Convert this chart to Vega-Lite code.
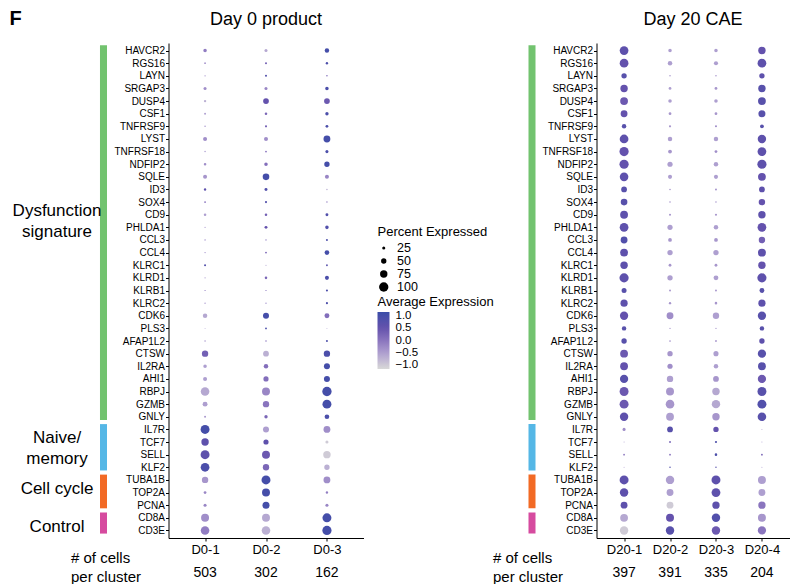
{
  "$schema": "https://vega.github.io/schema/vega-lite/v6.json",
  "padding": {"left": 9.5, "top": 9, "right": 0, "bottom": 0},
  "config": {
    "view": {"stroke": null},
    "font": "Liberation Sans",
    "axis": {"domainColor": "black", "tickColor": "black", "labelColor": "black", "grid": false, "tickSize": 3, "domainWidth": 1, "tickWidth": 1, "labelFont": "Liberation Sans"},
    "title": {"fontSize": 18, "fontWeight": "normal", "color": "black", "offset": 14, "anchor": "middle", "frame": "group"},
    "legend": {"titleFontWeight": "normal", "titleFontSize": 13, "labelFontSize": 13, "titleColor": "black", "labelColor": "black"}
  },
  "datasets": {
    "cats": [
      {"group": "Dysfunction", "label": "Dysfunction\nsignature", "first": "HAVCR2", "last": "GNLY", "anchor": "CD9"},
      {"group": "Naive", "label": "Naive/\nmemory", "first": "IL7R", "last": "KLF2", "anchor": "TCF7"},
      {"group": "Cell cycle", "label": "Cell cycle", "first": "TUBA1B", "last": "PCNA", "anchor": "TOP2A"},
      {"group": "Control", "label": "Control", "first": "CD8A", "last": "CD3E", "anchor": "CD3E"}
    ],
    "counts0": [
      {"cluster": "D0-1", "n": 503, "row": "# of cells|per cluster"},
      {"cluster": "D0-2", "n": 302, "row": "# of cells|per cluster"},
      {"cluster": "D0-3", "n": 162, "row": "# of cells|per cluster"}
    ],
    "counts20": [
      {"cluster": "D20-1", "n": 397, "row": "# of cells|per cluster"},
      {"cluster": "D20-2", "n": 391, "row": "# of cells|per cluster"},
      {"cluster": "D20-3", "n": 335, "row": "# of cells|per cluster"},
      {"cluster": "D20-4", "n": 204, "row": "# of cells|per cluster"}
    ],
    "d0": [
      {"gene":"HAVCR2","cluster":"D0-1","pct":30,"avg":-0.1},{"gene":"HAVCR2","cluster":"D0-2","pct":25,"avg":-0.6},{"gene":"HAVCR2","cluster":"D0-3","pct":40,"avg":1.0},
      {"gene":"RGS16","cluster":"D0-1","pct":12,"avg":-0.3},{"gene":"RGS16","cluster":"D0-2","pct":15,"avg":0.3},{"gene":"RGS16","cluster":"D0-3","pct":18,"avg":0.9},
      {"gene":"LAYN","cluster":"D0-1","pct":8,"avg":-0.2},{"gene":"LAYN","cluster":"D0-2","pct":15,"avg":0.8},{"gene":"LAYN","cluster":"D0-3","pct":10,"avg":0.2},
      {"gene":"SRGAP3","cluster":"D0-1","pct":25,"avg":-0.3},{"gene":"SRGAP3","cluster":"D0-2","pct":25,"avg":-0.2},{"gene":"SRGAP3","cluster":"D0-3","pct":30,"avg":0.9},
      {"gene":"DUSP4","cluster":"D0-1","pct":18,"avg":-0.7},{"gene":"DUSP4","cluster":"D0-2","pct":55,"avg":0.5},{"gene":"DUSP4","cluster":"D0-3","pct":55,"avg":0.4},
      {"gene":"CSF1","cluster":"D0-1","pct":14,"avg":-0.5},{"gene":"CSF1","cluster":"D0-2","pct":20,"avg":0.2},{"gene":"CSF1","cluster":"D0-3","pct":28,"avg":0.9},
      {"gene":"TNFRSF9","cluster":"D0-1","pct":10,"avg":-0.4},{"gene":"TNFRSF9","cluster":"D0-2","pct":16,"avg":0.3},{"gene":"TNFRSF9","cluster":"D0-3","pct":22,"avg":0.9},
      {"gene":"LYST","cluster":"D0-1","pct":35,"avg":-0.3},{"gene":"LYST","cluster":"D0-2","pct":35,"avg":-0.3},{"gene":"LYST","cluster":"D0-3","pct":68,"avg":1.0},
      {"gene":"TNFRSF18","cluster":"D0-1","pct":10,"avg":-0.5},{"gene":"TNFRSF18","cluster":"D0-2","pct":13,"avg":0.0},{"gene":"TNFRSF18","cluster":"D0-3","pct":25,"avg":0.9},
      {"gene":"NDFIP2","cluster":"D0-1","pct":20,"avg":-0.3},{"gene":"NDFIP2","cluster":"D0-2","pct":30,"avg":0.1},{"gene":"NDFIP2","cluster":"D0-3","pct":50,"avg":1.0},
      {"gene":"SQLE","cluster":"D0-1","pct":35,"avg":-0.4},{"gene":"SQLE","cluster":"D0-2","pct":65,"avg":1.0},{"gene":"SQLE","cluster":"D0-3","pct":35,"avg":-0.2},
      {"gene":"ID3","cluster":"D0-1","pct":18,"avg":0.6},{"gene":"ID3","cluster":"D0-2","pct":24,"avg":0.8},{"gene":"ID3","cluster":"D0-3","pct":10,"avg":-0.7},
      {"gene":"SOX4","cluster":"D0-1","pct":14,"avg":-0.1},{"gene":"SOX4","cluster":"D0-2","pct":16,"avg":0.8},{"gene":"SOX4","cluster":"D0-3","pct":10,"avg":-0.2},
      {"gene":"CD9","cluster":"D0-1","pct":20,"avg":-0.5},{"gene":"CD9","cluster":"D0-2","pct":20,"avg":0.3},{"gene":"CD9","cluster":"D0-3","pct":23,"avg":0.8},
      {"gene":"PHLDA1","cluster":"D0-1","pct":8,"avg":-0.4},{"gene":"PHLDA1","cluster":"D0-2","pct":23,"avg":0.5},{"gene":"PHLDA1","cluster":"D0-3","pct":30,"avg":0.8},
      {"gene":"CCL3","cluster":"D0-1","pct":8,"avg":0.0},{"gene":"CCL3","cluster":"D0-2","pct":8,"avg":0.2},{"gene":"CCL3","cluster":"D0-3","pct":15,"avg":0.9},
      {"gene":"CCL4","cluster":"D0-1","pct":8,"avg":-0.2},{"gene":"CCL4","cluster":"D0-2","pct":13,"avg":0.2},{"gene":"CCL4","cluster":"D0-3","pct":42,"avg":1.0},
      {"gene":"KLRC1","cluster":"D0-1","pct":15,"avg":0.8},{"gene":"KLRC1","cluster":"D0-2","pct":8,"avg":-0.6},{"gene":"KLRC1","cluster":"D0-3","pct":13,"avg":0.7},
      {"gene":"KLRD1","cluster":"D0-1","pct":8,"avg":-0.4},{"gene":"KLRD1","cluster":"D0-2","pct":20,"avg":0.2},{"gene":"KLRD1","cluster":"D0-3","pct":35,"avg":0.9},
      {"gene":"KLRB1","cluster":"D0-1","pct":8,"avg":0.0},{"gene":"KLRB1","cluster":"D0-2","pct":8,"avg":0.1},{"gene":"KLRB1","cluster":"D0-3","pct":16,"avg":0.9},
      {"gene":"KLRC2","cluster":"D0-1","pct":8,"avg":-0.2},{"gene":"KLRC2","cluster":"D0-2","pct":8,"avg":-0.1},{"gene":"KLRC2","cluster":"D0-3","pct":16,"avg":0.9},
      {"gene":"CDK6","cluster":"D0-1","pct":40,"avg":-0.6},{"gene":"CDK6","cluster":"D0-2","pct":58,"avg":1.0},{"gene":"CDK6","cluster":"D0-3","pct":45,"avg":0.1},
      {"gene":"PLS3","cluster":"D0-1","pct":6,"avg":-0.3},{"gene":"PLS3","cluster":"D0-2","pct":13,"avg":0.9},{"gene":"PLS3","cluster":"D0-3","pct":6,"avg":-0.4},
      {"gene":"AFAP1L2","cluster":"D0-1","pct":10,"avg":-0.4},{"gene":"AFAP1L2","cluster":"D0-2","pct":10,"avg":0.0},{"gene":"AFAP1L2","cluster":"D0-3","pct":15,"avg":0.9},
      {"gene":"CTSW","cluster":"D0-1","pct":62,"avg":0.3},{"gene":"CTSW","cluster":"D0-2","pct":55,"avg":-0.7},{"gene":"CTSW","cluster":"D0-3","pct":62,"avg":0.9},
      {"gene":"IL2RA","cluster":"D0-1","pct":30,"avg":-0.5},{"gene":"IL2RA","cluster":"D0-2","pct":40,"avg":0.1},{"gene":"IL2RA","cluster":"D0-3","pct":58,"avg":1.0},
      {"gene":"AHI1","cluster":"D0-1","pct":35,"avg":-0.5},{"gene":"AHI1","cluster":"D0-2","pct":48,"avg":0.1},{"gene":"AHI1","cluster":"D0-3","pct":58,"avg":1.0},
      {"gene":"RBPJ","cluster":"D0-1","pct":90,"avg":-0.6},{"gene":"RBPJ","cluster":"D0-2","pct":82,"avg":-0.2},{"gene":"RBPJ","cluster":"D0-3","pct":100,"avg":1.0},
      {"gene":"GZMB","cluster":"D0-1","pct":45,"avg":-0.5},{"gene":"GZMB","cluster":"D0-2","pct":62,"avg":0.0},{"gene":"GZMB","cluster":"D0-3","pct":95,"avg":1.0},
      {"gene":"GNLY","cluster":"D0-1","pct":14,"avg":-0.4},{"gene":"GNLY","cluster":"D0-2","pct":28,"avg":0.2},{"gene":"GNLY","cluster":"D0-3","pct":42,"avg":0.9},
      {"gene":"IL7R","cluster":"D0-1","pct":95,"avg":1.0},{"gene":"IL7R","cluster":"D0-2","pct":58,"avg":-0.5},{"gene":"IL7R","cluster":"D0-3","pct":68,"avg":-0.3},
      {"gene":"TCF7","cluster":"D0-1","pct":75,"avg":0.6},{"gene":"TCF7","cluster":"D0-2","pct":48,"avg":0.6},{"gene":"TCF7","cluster":"D0-3","pct":25,"avg":-1.0},
      {"gene":"SELL","cluster":"D0-1","pct":95,"avg":0.6},{"gene":"SELL","cluster":"D0-2","pct":82,"avg":0.4},{"gene":"SELL","cluster":"D0-3","pct":75,"avg":-1.0},
      {"gene":"KLF2","cluster":"D0-1","pct":92,"avg":0.9},{"gene":"KLF2","cluster":"D0-2","pct":62,"avg":0.2},{"gene":"KLF2","cluster":"D0-3","pct":50,"avg":-0.7},
      {"gene":"TUBA1B","cluster":"D0-1","pct":62,"avg":-0.4},{"gene":"TUBA1B","cluster":"D0-2","pct":95,"avg":1.0},{"gene":"TUBA1B","cluster":"D0-3","pct":68,"avg":-0.3},
      {"gene":"TOP2A","cluster":"D0-1","pct":22,"avg":-0.2},{"gene":"TOP2A","cluster":"D0-2","pct":82,"avg":1.0},{"gene":"TOP2A","cluster":"D0-3","pct":18,"avg":-0.1},
      {"gene":"PCNA","cluster":"D0-1","pct":25,"avg":-0.2},{"gene":"PCNA","cluster":"D0-2","pct":70,"avg":1.0},{"gene":"PCNA","cluster":"D0-3","pct":25,"avg":-0.2},
      {"gene":"CD8A","cluster":"D0-1","pct":82,"avg":-0.3},{"gene":"CD8A","cluster":"D0-2","pct":82,"avg":-0.6},{"gene":"CD8A","cluster":"D0-3","pct":95,"avg":1.0},
      {"gene":"CD3E","cluster":"D0-1","pct":90,"avg":-0.1},{"gene":"CD3E","cluster":"D0-2","pct":90,"avg":-0.7},{"gene":"CD3E","cluster":"D0-3","pct":98,"avg":1.0}
    ],
    "d20": [
      {"gene":"HAVCR2","cluster":"D20-1","pct":92,"avg":0.6},{"gene":"HAVCR2","cluster":"D20-2","pct":30,"avg":-0.5},{"gene":"HAVCR2","cluster":"D20-3","pct":30,"avg":-0.5},{"gene":"HAVCR2","cluster":"D20-4","pct":75,"avg":0.5},
      {"gene":"RGS16","cluster":"D20-1","pct":92,"avg":0.5},{"gene":"RGS16","cluster":"D20-2","pct":40,"avg":-0.5},{"gene":"RGS16","cluster":"D20-3","pct":36,"avg":-0.5},{"gene":"RGS16","cluster":"D20-4","pct":92,"avg":0.6},
      {"gene":"LAYN","cluster":"D20-1","pct":50,"avg":0.7},{"gene":"LAYN","cluster":"D20-2","pct":10,"avg":-0.4},{"gene":"LAYN","cluster":"D20-3","pct":10,"avg":-0.3},{"gene":"LAYN","cluster":"D20-4","pct":50,"avg":0.6},
      {"gene":"SRGAP3","cluster":"D20-1","pct":75,"avg":0.5},{"gene":"SRGAP3","cluster":"D20-2","pct":22,"avg":-0.5},{"gene":"SRGAP3","cluster":"D20-3","pct":22,"avg":-0.4},{"gene":"SRGAP3","cluster":"D20-4","pct":75,"avg":0.7},
      {"gene":"DUSP4","cluster":"D20-1","pct":80,"avg":0.4},{"gene":"DUSP4","cluster":"D20-2","pct":30,"avg":-0.5},{"gene":"DUSP4","cluster":"D20-3","pct":30,"avg":-0.5},{"gene":"DUSP4","cluster":"D20-4","pct":80,"avg":0.7},
      {"gene":"CSF1","cluster":"D20-1","pct":68,"avg":0.5},{"gene":"CSF1","cluster":"D20-2","pct":22,"avg":-0.4},{"gene":"CSF1","cluster":"D20-3","pct":22,"avg":-0.4},{"gene":"CSF1","cluster":"D20-4","pct":70,"avg":0.7},
      {"gene":"TNFRSF9","cluster":"D20-1","pct":40,"avg":0.7},{"gene":"TNFRSF9","cluster":"D20-2","pct":16,"avg":-0.4},{"gene":"TNFRSF9","cluster":"D20-3","pct":15,"avg":-0.3},{"gene":"TNFRSF9","cluster":"D20-4","pct":33,"avg":0.7},
      {"gene":"LYST","cluster":"D20-1","pct":92,"avg":0.6},{"gene":"LYST","cluster":"D20-2","pct":40,"avg":-0.5},{"gene":"LYST","cluster":"D20-3","pct":40,"avg":-0.5},{"gene":"LYST","cluster":"D20-4","pct":88,"avg":0.6},
      {"gene":"TNFRSF18","cluster":"D20-1","pct":98,"avg":0.5},{"gene":"TNFRSF18","cluster":"D20-2","pct":33,"avg":-0.4},{"gene":"TNFRSF18","cluster":"D20-3","pct":22,"avg":-0.3},{"gene":"TNFRSF18","cluster":"D20-4","pct":92,"avg":0.6},
      {"gene":"NDFIP2","cluster":"D20-1","pct":98,"avg":0.5},{"gene":"NDFIP2","cluster":"D20-2","pct":48,"avg":-0.5},{"gene":"NDFIP2","cluster":"D20-3","pct":40,"avg":-0.5},{"gene":"NDFIP2","cluster":"D20-4","pct":98,"avg":0.6},
      {"gene":"SQLE","cluster":"D20-1","pct":90,"avg":0.6},{"gene":"SQLE","cluster":"D20-2","pct":36,"avg":-0.5},{"gene":"SQLE","cluster":"D20-3","pct":36,"avg":-0.5},{"gene":"SQLE","cluster":"D20-4","pct":80,"avg":0.5},
      {"gene":"ID3","cluster":"D20-1","pct":55,"avg":0.7},{"gene":"ID3","cluster":"D20-2","pct":10,"avg":-0.3},{"gene":"ID3","cluster":"D20-3","pct":13,"avg":-0.3},{"gene":"ID3","cluster":"D20-4","pct":55,"avg":0.6},
      {"gene":"SOX4","cluster":"D20-1","pct":65,"avg":0.7},{"gene":"SOX4","cluster":"D20-2","pct":10,"avg":-0.3},{"gene":"SOX4","cluster":"D20-3","pct":10,"avg":-0.3},{"gene":"SOX4","cluster":"D20-4","pct":63,"avg":0.5},
      {"gene":"CD9","cluster":"D20-1","pct":80,"avg":0.6},{"gene":"CD9","cluster":"D20-2","pct":15,"avg":-0.4},{"gene":"CD9","cluster":"D20-3","pct":16,"avg":-0.4},{"gene":"CD9","cluster":"D20-4","pct":75,"avg":0.6},
      {"gene":"PHLDA1","cluster":"D20-1","pct":92,"avg":0.6},{"gene":"PHLDA1","cluster":"D20-2","pct":48,"avg":-0.5},{"gene":"PHLDA1","cluster":"D20-3","pct":40,"avg":-0.5},{"gene":"PHLDA1","cluster":"D20-4","pct":92,"avg":0.5},
      {"gene":"CCL3","cluster":"D20-1","pct":68,"avg":0.8},{"gene":"CCL3","cluster":"D20-2","pct":32,"avg":-0.4},{"gene":"CCL3","cluster":"D20-3","pct":32,"avg":-0.4},{"gene":"CCL3","cluster":"D20-4","pct":62,"avg":0.3},
      {"gene":"CCL4","cluster":"D20-1","pct":80,"avg":0.6},{"gene":"CCL4","cluster":"D20-2","pct":50,"avg":-0.5},{"gene":"CCL4","cluster":"D20-3","pct":50,"avg":-0.5},{"gene":"CCL4","cluster":"D20-4","pct":82,"avg":0.6},
      {"gene":"KLRC1","cluster":"D20-1","pct":75,"avg":0.6},{"gene":"KLRC1","cluster":"D20-2","pct":22,"avg":-0.4},{"gene":"KLRC1","cluster":"D20-3","pct":22,"avg":-0.4},{"gene":"KLRC1","cluster":"D20-4","pct":75,"avg":0.5},
      {"gene":"KLRD1","cluster":"D20-1","pct":98,"avg":0.6},{"gene":"KLRD1","cluster":"D20-2","pct":50,"avg":-0.5},{"gene":"KLRD1","cluster":"D20-3","pct":44,"avg":-0.5},{"gene":"KLRD1","cluster":"D20-4","pct":98,"avg":0.6},
      {"gene":"KLRB1","cluster":"D20-1","pct":46,"avg":0.7},{"gene":"KLRB1","cluster":"D20-2","pct":14,"avg":-0.4},{"gene":"KLRB1","cluster":"D20-3","pct":14,"avg":-0.4},{"gene":"KLRB1","cluster":"D20-4","pct":44,"avg":0.7},
      {"gene":"KLRC2","cluster":"D20-1","pct":72,"avg":0.6},{"gene":"KLRC2","cluster":"D20-2","pct":18,"avg":-0.4},{"gene":"KLRC2","cluster":"D20-3","pct":20,"avg":-0.4},{"gene":"KLRC2","cluster":"D20-4","pct":72,"avg":0.6},
      {"gene":"CDK6","cluster":"D20-1","pct":86,"avg":0.5},{"gene":"CDK6","cluster":"D20-2","pct":68,"avg":-0.3},{"gene":"CDK6","cluster":"D20-3","pct":62,"avg":-0.5},{"gene":"CDK6","cluster":"D20-4","pct":86,"avg":0.7},
      {"gene":"PLS3","cluster":"D20-1","pct":40,"avg":0.7},{"gene":"PLS3","cluster":"D20-2","pct":8,"avg":-0.4},{"gene":"PLS3","cluster":"D20-3","pct":8,"avg":-0.4},{"gene":"PLS3","cluster":"D20-4","pct":40,"avg":0.7},
      {"gene":"AFAP1L2","cluster":"D20-1","pct":50,"avg":0.7},{"gene":"AFAP1L2","cluster":"D20-2","pct":12,"avg":-0.4},{"gene":"AFAP1L2","cluster":"D20-3","pct":13,"avg":-0.4},{"gene":"AFAP1L2","cluster":"D20-4","pct":50,"avg":0.6},
      {"gene":"CTSW","cluster":"D20-1","pct":80,"avg":0.4},{"gene":"CTSW","cluster":"D20-2","pct":50,"avg":-0.4},{"gene":"CTSW","cluster":"D20-3","pct":47,"avg":-0.5},{"gene":"CTSW","cluster":"D20-4","pct":86,"avg":0.7},
      {"gene":"IL2RA","cluster":"D20-1","pct":80,"avg":0.5},{"gene":"IL2RA","cluster":"D20-2","pct":48,"avg":-0.3},{"gene":"IL2RA","cluster":"D20-3","pct":40,"avg":-0.5},{"gene":"IL2RA","cluster":"D20-4","pct":80,"avg":0.7},
      {"gene":"AHI1","cluster":"D20-1","pct":86,"avg":0.7},{"gene":"AHI1","cluster":"D20-2","pct":62,"avg":-0.5},{"gene":"AHI1","cluster":"D20-3","pct":55,"avg":-0.4},{"gene":"AHI1","cluster":"D20-4","pct":86,"avg":0.4},
      {"gene":"RBPJ","cluster":"D20-1","pct":95,"avg":0.4},{"gene":"RBPJ","cluster":"D20-2","pct":82,"avg":-0.4},{"gene":"RBPJ","cluster":"D20-3","pct":75,"avg":-0.6},{"gene":"RBPJ","cluster":"D20-4","pct":95,"avg":0.7},
      {"gene":"GZMB","cluster":"D20-1","pct":95,"avg":0.4},{"gene":"GZMB","cluster":"D20-2","pct":90,"avg":-0.4},{"gene":"GZMB","cluster":"D20-3","pct":88,"avg":-0.6},{"gene":"GZMB","cluster":"D20-4","pct":95,"avg":0.8},
      {"gene":"GNLY","cluster":"D20-1","pct":88,"avg":0.6},{"gene":"GNLY","cluster":"D20-2","pct":80,"avg":-0.5},{"gene":"GNLY","cluster":"D20-3","pct":75,"avg":-0.4},{"gene":"GNLY","cluster":"D20-4","pct":90,"avg":0.7},
      {"gene":"IL7R","cluster":"D20-1","pct":25,"avg":-0.3},{"gene":"IL7R","cluster":"D20-2","pct":55,"avg":0.7},{"gene":"IL7R","cluster":"D20-3","pct":50,"avg":0.5},{"gene":"IL7R","cluster":"D20-4","pct":6,"avg":-0.4},
      {"gene":"TCF7","cluster":"D20-1","pct":6,"avg":-0.2},{"gene":"TCF7","cluster":"D20-2","pct":13,"avg":0.3},{"gene":"TCF7","cluster":"D20-3","pct":16,"avg":0.9},{"gene":"TCF7","cluster":"D20-4","pct":6,"avg":-0.2},
      {"gene":"SELL","cluster":"D20-1","pct":13,"avg":-0.1},{"gene":"SELL","cluster":"D20-2","pct":13,"avg":0.0},{"gene":"SELL","cluster":"D20-3","pct":20,"avg":0.9},{"gene":"SELL","cluster":"D20-4","pct":13,"avg":0.2},
      {"gene":"KLF2","cluster":"D20-1","pct":6,"avg":-0.3},{"gene":"KLF2","cluster":"D20-2","pct":10,"avg":0.8},{"gene":"KLF2","cluster":"D20-3","pct":10,"avg":0.7},{"gene":"KLF2","cluster":"D20-4","pct":6,"avg":-0.2},
      {"gene":"TUBA1B","cluster":"D20-1","pct":95,"avg":0.6},{"gene":"TUBA1B","cluster":"D20-2","pct":88,"avg":-0.5},{"gene":"TUBA1B","cluster":"D20-3","pct":95,"avg":0.6},{"gene":"TUBA1B","cluster":"D20-4","pct":82,"avg":-0.5},
      {"gene":"TOP2A","cluster":"D20-1","pct":88,"avg":0.6},{"gene":"TOP2A","cluster":"D20-2","pct":68,"avg":-0.5},{"gene":"TOP2A","cluster":"D20-3","pct":93,"avg":0.6},{"gene":"TOP2A","cluster":"D20-4","pct":68,"avg":-0.5},
      {"gene":"PCNA","cluster":"D20-1","pct":68,"avg":0.6},{"gene":"PCNA","cluster":"D20-2","pct":68,"avg":-1.0},{"gene":"PCNA","cluster":"D20-3","pct":74,"avg":0.6},{"gene":"PCNA","cluster":"D20-4","pct":74,"avg":0.0},
      {"gene":"CD8A","cluster":"D20-1","pct":80,"avg":-0.6},{"gene":"CD8A","cluster":"D20-2","pct":82,"avg":0.5},{"gene":"CD8A","cluster":"D20-3","pct":88,"avg":0.8},{"gene":"CD8A","cluster":"D20-4","pct":82,"avg":-0.4},
      {"gene":"CD3E","cluster":"D20-1","pct":88,"avg":-1.0},{"gene":"CD3E","cluster":"D20-2","pct":88,"avg":0.7},{"gene":"CD3E","cluster":"D20-3","pct":88,"avg":0.4},{"gene":"CD3E","cluster":"D20-4","pct":86,"avg":0.0}
    ]
  },
  "columns": 4,
  "bounds": "flush",
  "align": "each",
  "spacing": {"row": 21, "column": 61},
  "resolve": {"scale": {"color": "independent", "size": "independent"}},
  "concat": [
    {
      "width": 53.5, "height": 495,
      "title": {"text": "F", "anchor": "start", "dx": -44, "fontSize": 20, "fontWeight": "bold"},
      "data": {"name": "cats"},
      "layer": [
        {
          "mark": {"type": "rect"},
          "encoding": {
            "x": {"datum": "bar", "type": "nominal", "scale": {"type": "band", "domain": ["label", "bar"], "paddingInner": 0.849, "paddingOuter": 0}, "axis": null},
            "y": {"field": "first", "type": "nominal", "bandPosition": 0.08, "scale": {"type": "band", "paddingInner": 0, "paddingOuter": 0.1, "domain": ["HAVCR2","RGS16","LAYN","SRGAP3","DUSP4","CSF1","TNFRSF9","LYST","TNFRSF18","NDFIP2","SQLE","ID3","SOX4","CD9","PHLDA1","CCL3","CCL4","KLRC1","KLRD1","KLRB1","KLRC2","CDK6","PLS3","AFAP1L2","CTSW","IL2RA","AHI1","RBPJ","GZMB","GNLY","IL7R","TCF7","SELL","KLF2","TUBA1B","TOP2A","PCNA","CD8A","CD3E"]}, "axis": null},
            "y2": {"field": "last", "bandPosition": 0.75},
            "color": {"field": "group", "type": "nominal", "scale": {"domain": ["Dysfunction", "Naive", "Cell cycle", "Control"], "range": ["#72C36F", "#55B7E6", "#F26A25", "#D64B9F"]}, "legend": null}
          }
        },
        {
          "mark": {"type": "text", "fontSize": 17, "lineBreak": "\n", "lineHeight": 21, "color": "black", "baseline": "middle", "align": "center"},
          "encoding": {
            "x": {"datum": "label", "type": "nominal"},
            "y": {"field": "anchor", "type": "nominal", "bandPosition": 0.2},
            "text": {"field": "label", "type": "nominal"}
          }
        }
      ]
    },
    {
      "width": 195, "height": 495,
      "title": {"text": "Day 0 product"},
      "data": {"name": "d0"},
      "mark": {"type": "circle", "opacity": 1},
      "encoding": {
        "x": {"field": "cluster", "type": "nominal", "scale": {"type": "point", "padding": 0.6, "domain": ["D0-1", "D0-2", "D0-3"]}, "axis": {"title": null, "labelAngle": 0, "labelFontSize": 13, "labelPadding": 2}},
        "y": {"field": "gene", "type": "nominal", "scale": {"type": "point", "padding": 0.6, "domain": ["HAVCR2","RGS16","LAYN","SRGAP3","DUSP4","CSF1","TNFRSF9","LYST","TNFRSF18","NDFIP2","SQLE","ID3","SOX4","CD9","PHLDA1","CCL3","CCL4","KLRC1","KLRD1","KLRB1","KLRC2","CDK6","PLS3","AFAP1L2","CTSW","IL2RA","AHI1","RBPJ","GZMB","GNLY","IL7R","TCF7","SELL","KLF2","TUBA1B","TOP2A","PCNA","CD8A","CD3E"]}, "axis": {"title": null, "labelFontSize": 10, "labelPadding": 1}},
        "size": {"field": "pct", "type": "quantitative", "scale": {"type": "pow", "exponent": 1.6, "domain": [0, 100], "range": [0, 87]}, "legend": {"title": "Percent Expressed", "orient": "none", "legendX": 209, "legendY": 183, "values": [25, 50, 75, 100], "symbolFillColor": "black", "symbolStrokeWidth": 0, "symbolType": "circle", "labelOffset": 7, "labelFontSize": 12.5, "clipHeight": 12, "rowPadding": 0, "titlePadding": 3}},
        "color": {"field": "avg", "type": "quantitative", "scale": {"domain": [-1.15, -0.5, 0, 0.5, 1.15], "range": ["#D8D8D8", "#AE9FD0", "#8A75BE", "#6452AD", "#3A4DA8"], "interpolate": "lab"}, "legend": {"title": "Average Expression", "orient": "none", "legendX": 209, "legendY": 253, "values": [-1, -0.5, 0, 0.5, 1], "format": ".1f", "gradientLength": 57, "gradientThickness": 12, "gradientStrokeWidth": 0, "labelOverlap": false, "labelOffset": 6, "labelFontSize": 11.5, "direction": "vertical", "titlePadding": 3}}
      }
    },
    {
      "width": 111, "height": 495,
      "data": {"name": "cats"},
      "mark": {"type": "rect"},
      "encoding": {
        "x": {"datum": "bar", "type": "nominal", "scale": {"type": "band", "domain": ["label", "bar"], "paddingInner": 0.93269, "paddingOuter": 0}, "axis": null},
        "y": {"field": "first", "type": "nominal", "bandPosition": 0.08, "scale": {"type": "band", "paddingInner": 0, "paddingOuter": 0.1, "domain": ["HAVCR2","RGS16","LAYN","SRGAP3","DUSP4","CSF1","TNFRSF9","LYST","TNFRSF18","NDFIP2","SQLE","ID3","SOX4","CD9","PHLDA1","CCL3","CCL4","KLRC1","KLRD1","KLRB1","KLRC2","CDK6","PLS3","AFAP1L2","CTSW","IL2RA","AHI1","RBPJ","GZMB","GNLY","IL7R","TCF7","SELL","KLF2","TUBA1B","TOP2A","PCNA","CD8A","CD3E"]}, "axis": null},
        "y2": {"field": "last", "bandPosition": 0.75},
        "color": {"field": "group", "type": "nominal", "scale": {"domain": ["Dysfunction", "Naive", "Cell cycle", "Control"], "range": ["#72C36F", "#55B7E6", "#F26A25", "#D64B9F"]}, "legend": null}
      }
    },
    {
      "width": 193, "height": 495,
      "title": {"text": "Day 20 CAE"},
      "data": {"name": "d20"},
      "mark": {"type": "circle", "opacity": 1},
      "encoding": {
        "x": {"field": "cluster", "type": "nominal", "scale": {"type": "point", "padding": 0.6, "domain": ["D20-1", "D20-2", "D20-3", "D20-4"]}, "axis": {"title": null, "labelAngle": 0, "labelFontSize": 13, "labelPadding": 2}},
        "y": {"field": "gene", "type": "nominal", "scale": {"type": "point", "padding": 0.6, "domain": ["HAVCR2","RGS16","LAYN","SRGAP3","DUSP4","CSF1","TNFRSF9","LYST","TNFRSF18","NDFIP2","SQLE","ID3","SOX4","CD9","PHLDA1","CCL3","CCL4","KLRC1","KLRD1","KLRB1","KLRC2","CDK6","PLS3","AFAP1L2","CTSW","IL2RA","AHI1","RBPJ","GZMB","GNLY","IL7R","TCF7","SELL","KLF2","TUBA1B","TOP2A","PCNA","CD8A","CD3E"]}, "axis": {"title": null, "labelFontSize": 10, "labelPadding": 1}},
        "size": {"field": "pct", "type": "quantitative", "scale": {"type": "pow", "exponent": 1.6, "domain": [0, 100], "range": [0, 87]}, "legend": null},
        "color": {"field": "avg", "type": "quantitative", "scale": {"domain": [-1.15, -0.5, 0, 0.5, 1.15], "range": ["#D8D8D8", "#AE9FD0", "#8A75BE", "#6452AD", "#3A4DA8"], "interpolate": "lab"}, "legend": null}
      }
    },
    {
      "width": 53.5, "height": 28,
      "data": {"values": []},
      "mark": "point",
      "encoding": {}
    },
    {
      "width": 195, "height": 28,
      "data": {"name": "counts0"},
      "mark": {"type": "text", "fontSize": 14, "color": "black"},
      "encoding": {
        "x": {"field": "cluster", "type": "nominal", "scale": {"type": "point", "padding": 0.6, "domain": ["D0-1", "D0-2", "D0-3"]}, "axis": null},
        "y": {"field": "row", "type": "nominal", "scale": {"type": "point", "padding": 0.5}, "axis": {"title": null, "domain": false, "ticks": false, "labelExpr": "split(datum.label, '|')", "labelAlign": "left", "labelPadding": 98, "labelFontSize": 15, "labelLineHeight": 19, "labelOffset": -16, "labelLimit": 0}},
        "text": {"field": "n", "type": "quantitative"}
      }
    },
    {
      "width": 111, "height": 28,
      "data": {"values": []},
      "mark": "point",
      "encoding": {}
    },
    {
      "width": 193, "height": 28,
      "data": {"name": "counts20"},
      "mark": {"type": "text", "fontSize": 14, "color": "black"},
      "encoding": {
        "x": {"field": "cluster", "type": "nominal", "scale": {"type": "point", "padding": 0.6, "domain": ["D20-1", "D20-2", "D20-3", "D20-4"]}, "axis": null},
        "y": {"field": "row", "type": "nominal", "scale": {"type": "point", "padding": 0.5}, "axis": {"title": null, "domain": false, "ticks": false, "labelExpr": "split(datum.label, '|')", "labelAlign": "left", "labelPadding": 104, "labelFontSize": 15, "labelLineHeight": 19, "labelOffset": -16, "labelLimit": 0}},
        "text": {"field": "n", "type": "quantitative"}
      }
    }
  ]
}
